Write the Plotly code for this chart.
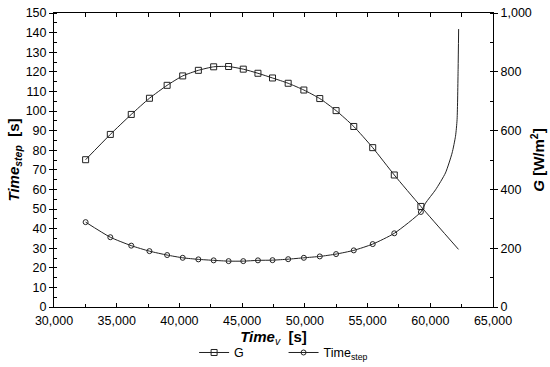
import plotly.graph_objects as go

# ---- data ----
time_v = [32520, 34490, 36160, 37610, 39020, 40260, 41510, 42730, 43920, 45090,
          46260, 47420, 48670, 49920, 51190, 52490, 53900, 55410, 57130, 59250]
g_vals = [501, 587, 655, 710, 754, 786, 805, 817, 818, 809,
          795, 779, 761, 738, 709, 668, 614, 542, 449, 342]
g_end_time = [62250]
g_end_val = [196]

step_vals = [43.3, 35.6, 31.3, 28.5, 26.5, 25.1, 24.3, 23.8, 23.4, 23.4,
             23.8, 23.9, 24.4, 25.1, 25.8, 27.0, 28.9, 32.1, 37.6, 48.5]
step_tail_time = [59620, 60420, 61210, 61740, 62010, 62137, 62218, 62260]
step_tail_val = [53.0, 59.8, 68.4, 78.6, 87.1, 95.7, 121.3, 141.8]

FONT = "Liberation Sans, Arial, sans-serif"
LC = "#222222"

fig = go.Figure()

# G line (all points) + markers
fig.add_trace(go.Scatter(x=time_v + g_end_time, y=g_vals + g_end_val, yaxis="y2",
                         mode="lines", line=dict(color=LC, width=1, shape="spline", smoothing=0.6),
                         showlegend=False, hoverinfo="skip"))
fig.add_trace(go.Scatter(x=time_v, y=g_vals, yaxis="y2", mode="markers",
                         marker=dict(symbol="square-open", size=6, color=LC, line=dict(width=1)),
                         showlegend=False))
# Time step line + markers
fig.add_trace(go.Scatter(x=time_v + step_tail_time, y=step_vals + step_tail_val,
                         mode="lines", line=dict(color=LC, width=1, shape="spline", smoothing=0.6),
                         showlegend=False, hoverinfo="skip"))
fig.add_trace(go.Scatter(x=time_v, y=step_vals, mode="markers",
                         marker=dict(symbol="circle-open", size=5, color=LC, line=dict(width=1)),
                         showlegend=False))
# legend entries
fig.add_trace(go.Scatter(x=[None], y=[None], mode="lines+markers", name="G" + "\u00a0" * 10,
                         line=dict(color=LC, width=1),
                         marker=dict(symbol="square-open", size=6, color=LC, line=dict(width=1))))
fig.add_trace(go.Scatter(x=[None], y=[None], mode="lines+markers", name="Time<sub>step</sub>",
                         line=dict(color=LC, width=1),
                         marker=dict(symbol="circle-open", size=5, color=LC, line=dict(width=1))))
# dummy trace for top axis
fig.add_trace(go.Scatter(x=[None], y=[None], xaxis="x2", showlegend=False))

tickfont = dict(family=FONT, size=12.5, color="#000")

fig.update_layout(
    width=550, height=367,
    margin=dict(l=54, r=57, t=13, b=60, autoexpand=False),
    paper_bgcolor="white", plot_bgcolor="white",
    font=dict(family=FONT, color="#000"),
    showlegend=True,
    legend=dict(orientation="h", x=0.523, xanchor="center", y=-0.105, yanchor="top",
                font=dict(family=FONT, size=12.5, color="#000"),
                itemwidth=30, tracegroupgap=0, bgcolor="rgba(0,0,0,0)"),
    xaxis=dict(range=[30000, 65000], dtick=5000, tick0=30000, tickformat=",",
               showgrid=False, zeroline=False, showline=True, linecolor="#000", linewidth=1,
               ticks="inside", ticklen=4, tickcolor="#000", tickfont=tickfont,
               ticklabelstandoff=2,
               minor=dict(ticks="inside", ticklen=3, dtick=2500, tickcolor="#000", showgrid=False),
               title=dict(text="<b><i>Time</i></b><sub><i>v</i></sub>  <b>[s]</b>",
                          font=dict(family=FONT, size=15, color="#000"), standoff=0)),
    xaxis2=dict(range=[30000, 65000], overlaying="x", side="top", showticklabels=False,
                showgrid=False, zeroline=False, showline=True, linecolor="#000", linewidth=1,
                ticks="inside", ticklen=4, tickcolor="#000", dtick=2500, tick0=30000),
    yaxis=dict(range=[0, 150], dtick=10, showgrid=False, zeroline=False, showline=True,
               linecolor="#000", linewidth=1, ticks="outside", ticklen=4, tickcolor="#000",
               tickfont=tickfont,
               minor=dict(ticks="inside", ticklen=3, dtick=5, tickcolor="#000", showgrid=False),
               title=dict(text="<b><i>Time</i></b><sub><b><i>step</i></b></sub>  <b>[s]</b>",
                          font=dict(family=FONT, size=15, color="#000"), standoff=2)),
    yaxis2=dict(range=[0, 1000], dtick=200, tickformat=",", overlaying="y", side="right",
                showgrid=False, zeroline=False, showline=True, linecolor="#000", linewidth=1,
                ticks="outside", ticklen=4, tickcolor="#000", tickfont=tickfont,
                minor=dict(ticks="inside", ticklen=3, dtick=100, tickcolor="#000", showgrid=False),
                title=dict(text="<b><i>G</i> [W/m<sup>2</sup>]</b>",
                           font=dict(family=FONT, size=15, color="#000"), standoff=2)),
)

fig.write_html("out.html", config={"displayModeBar": False},
               post_script="document.body.style.margin='0';")
